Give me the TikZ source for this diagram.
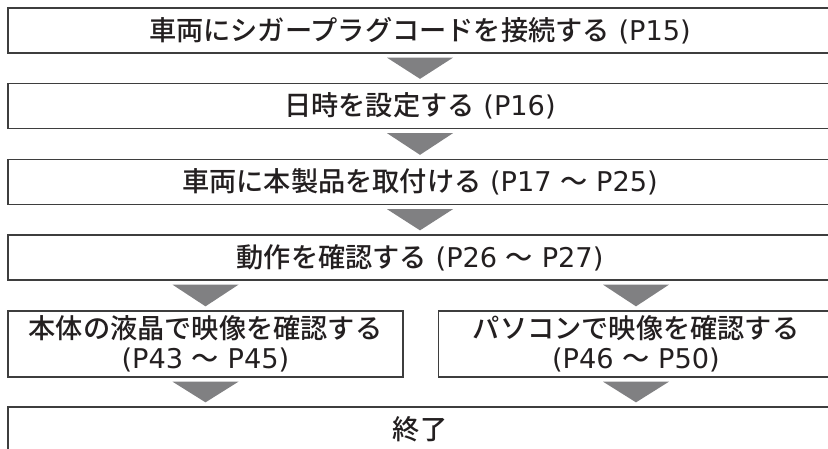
\documentclass[tikz,border=0pt]{standalone}
\usepackage{fontspec}
\setmainfont{Noto Sans CJK JP}[UprightFont=* Medium]
\newfontfamily\pagefont{DejaVu Sans}
\usetikzlibrary{calc}

\definecolor{trigray}{RGB}{128,128,130}
\definecolor{linegray}{RGB}{62,62,62}
\definecolor{inkblack}{RGB}{35,31,32}

\tikzset{
  stepbox/.style={draw=linegray, line width=1.3pt, text=inkblack, rectangle,
    inner sep=0pt, align=center, minimum height=45pt,
    font=\fontsize{27.2}{30}\selectfont},
  widebox/.style={stepbox, minimum width=824pt},
  halfbox/.style={stepbox, minimum width=395pt, minimum height=66pt}
}

% triangle between two boxes, centred under the third one
\newcommand\flowtri[3]{%
  \path (#3.center |- #1.south) coordinate (tritop)
        (#3.center |- #2.north) coordinate (tritip);
  \fill[trigray] ($(tritop)+(-33,4)$) -- ($(tritop)+(33,4)$)
    -- ($(tritip)+(0,-4)$) -- cycle;}

\begin{document}
\begin{tikzpicture}[x=1pt, y=-1pt]
    \useasboundingbox (0,0) rectangle (828,448);
    \node[widebox] (conn) at (420,30.5) {車両にシガープラグコードを接続する{\pagefont\ (P15)}};
    \node[widebox] (date) at (420,106) {日時を設定する{\pagefont\ (P16)}};
    \node[widebox] (inst) at (420,182) {車両に本製品を取付ける{\pagefont\ (P17 }〜{\pagefont\ P25)}};
    \node[widebox] (check) at (420,257.5) {動作を確認する{\pagefont\ (P26 }〜{\pagefont\ P27)}};
    \node[halfbox] (lcd) at (205.5,344) {本体の液晶で映像を確認する\\{\pagefont (P43 }〜{\pagefont\ P45)}};
    \node[halfbox] (pc) at (636,344) {パソコンで映像を確認する\\{\pagefont (P46 }〜{\pagefont\ P50)}};
    \node[widebox] (done) at (420,429.5) {終了};
    \flowtri{conn}{date}{date}
    \flowtri{date}{inst}{inst}
    \flowtri{inst}{check}{check}
    \flowtri{check}{lcd}{lcd}
    \flowtri{check}{pc}{pc}
    \flowtri{lcd}{done}{lcd}
    \flowtri{pc}{done}{pc}
  \end{tikzpicture}
\end{document}
